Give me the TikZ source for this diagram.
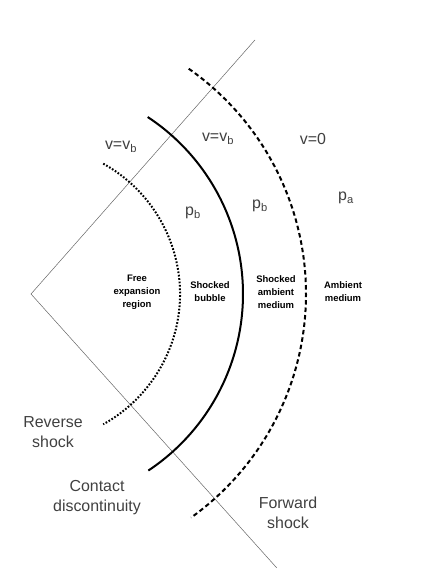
\documentclass[tikz,border=0pt]{standalone}
\usepackage{fontspec}
\setmainfont{Liberation Sans}
\usepackage{tikz}
\usetikzlibrary{positioning,calc}

\begin{document}
\begin{tikzpicture}[x=1bp,y=1bp,
  lbl/.style={font=\fontsize{16}{20}\selectfont,text=black!75,align=center,inner sep=0pt},
  reg/.style={font=\bfseries\fontsize{9.5}{13}\selectfont,align=center,inner sep=0pt},
  ray/.style={draw=black!60,line width=0.5bp},
  rshock/.style={line width=2bp,dash pattern=on 1.7bp off 1.7bp},
  contact/.style={line width=2bp},
  fshock/.style={line width=2bp,dash pattern=on 4.5bp off 3bp}]
\useasboundingbox (0,0) rectangle (436,581);
% cone of the outflow
\coordinate (apex) at (31,287);
\coordinate (top) at ($(apex)+(48.6:338.7)$);
\coordinate (bot) at ($(apex)+(-48.1:368)$);
\draw[ray] (top) -- (apex) -- (bot);
% shells
\draw[rshock]  ($(apex)+(61:149)$) arc[start angle=61,end angle=-61,radius=149];
\draw[contact] ($(apex)+(56.6:212)$) arc[start angle=56.6,end angle=-56.4,radius=212];
\draw[fshock]  ($(apex)+(55:275)$) arc[start angle=55,end angle=-54.4,radius=275];
% velocities and pressures
\node[lbl] (v1) at (121,434) {v=v\textsubscript{b}};
\node[lbl] (v2) at (218,442) {v=v\textsubscript{b}};
\node[lbl] (v0) at (313,442) {v=0};
\node[lbl] (p1) at (193,368) {p\textsubscript{b}};
\node[lbl] (p2) at (260,375) {p\textsubscript{b}};
\node[lbl] (pa) at (346,383) {p\textsubscript{a}};
% regions
\node[reg] (free) at (137,289) {Free\\expansion\\region};
\node[reg] (sbub) at (210,289) {Shocked\\bubble};
\node[reg] (samb) at (276,289) {Shocked\\ambient\\medium};
\node[reg] (amb)  at (343,289) {Ambient\\medium};
% fronts
\node[lbl] (rev) at (53,149) {Reverse\\shock};
\node[lbl] (con) at (97,83) {Contact\\discontinuity};
\node[lbl] (fwd) at (288,68) {Forward\\shock};
\end{tikzpicture}
\end{document}
